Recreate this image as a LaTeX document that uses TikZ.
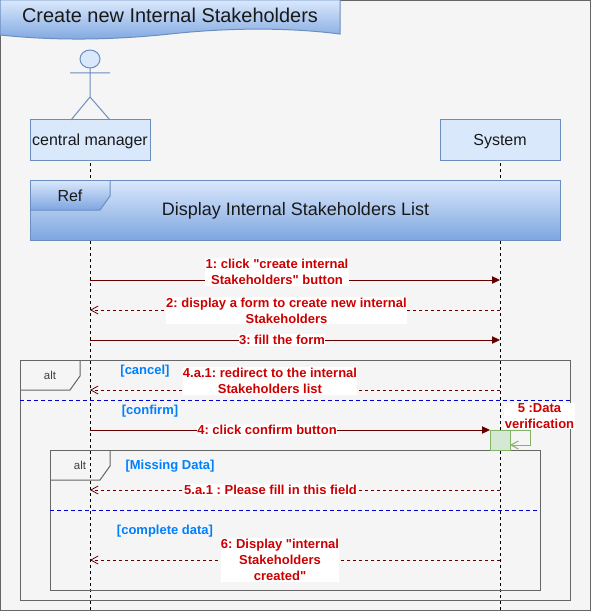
\documentclass[tikz,border=0pt]{standalone}
\usepackage{fontspec}
\setmainfont{Liberation Sans}
\newfontfamily\rawsans{Liberation Sans}
\frenchspacing
\usetikzlibrary{arrows.meta,shapes.geometric}
\definecolor{bgc}{HTML}{F5F5F5}
\definecolor{framec}{HTML}{666666}
\definecolor{bluefill}{HTML}{DAE8FC}
\definecolor{bluedark}{HTML}{7EA6E0}
\definecolor{blueline}{HTML}{6C8EBF}
\definecolor{msgc}{HTML}{660000}
\definecolor{msgtxt}{HTML}{CC0000}
\definecolor{guardc}{HTML}{007FFF}
\definecolor{greenf}{HTML}{D5E8D4}
\definecolor{greenl}{HTML}{82B366}
\definecolor{splitc}{HTML}{0000CC}
\tikzset{
  x=0.75pt,y=-0.75pt,
  every node/.style={font=\fontsize{12}{14}\selectfont,text=black!90,inner sep=0pt,outer sep=0pt},
  headbox/.style={draw=blueline,fill=bluefill,line width=0.75pt,minimum width=90pt,minimum height=30pt,font=\fontsize{12}{14}\selectfont},
  grad/.style={draw=blueline,line width=0.75pt,top color=bluefill,bottom color=bluedark},
  lifeline/.style={draw=black,line width=0.75pt,dash pattern=on 2.25pt off 2.25pt},
  framebox/.style={draw=framec,line width=0.75pt},
  splitline/.style={draw=splitc,line width=0.75pt,dash pattern=on 3pt off 2.25pt},
  callmsg/.style={draw=msgc,line width=0.75pt,-{Triangle[length=6pt,width=5.5pt]}},
  retmsg/.style={draw=msgc,line width=0.6pt,dash pattern=on 2.25pt off 2.25pt,-{Straight Barb[length=5.5pt,width=6pt]}},
  msglabel/.style={fill=white,text=msgtxt,align=center,font=\rawsans\fontsize{9.75}{12}\selectfont\bfseries,inner xsep=0.3pt,inner ysep=0.6pt},
  guard/.style={text=guardc,font=\fontsize{9.75}{11}\selectfont\bfseries},
  alttag/.style={text=black!75,font=\fontsize{8.6}{10}\selectfont},
}
\begin{document}
\begin{tikzpicture}
\useasboundingbox (0,0) rectangle (591,613);
\draw[framec,line width=0.75pt,fill=bgc] (0.5,0.5) rectangle (590.5,610.5);
% title
\path[grad] (0,0) -- (340,0) -- (340,34) .. controls (285,27) and (225,28) .. (170,34) .. controls (113,40) and (57,41) .. (0,35) -- cycle;
\node (title) at (170,15) {\fontsize{14.95}{18}\selectfont Create new Internal Stakeholders};
% lifelines
\node[headbox] (cm) at (90,140) {};
\node[headbox] (sys) at (500,140) {};
\node (cmtxt) at (90,141.5) {central manager};
\node (systxt) at (500,141.5) {System};
\coordinate (cmEnd) at (90,610);
\coordinate (sysEnd) at (500,610);
\draw[lifeline] (cm.south) ++(0,3) -- (cmEnd);
\draw[lifeline] (sys.south) ++(0,3) -- (sysEnd);
% actor
\node[draw=blueline,fill=bluefill,line width=0.75pt,ellipse,minimum width=15pt,minimum height=13.5pt] (head) at (90,59) {};
\coordinate (hip) at (90,97);
\coordinate (armL) at (70,73);
\coordinate (armR) at (110,73);
\coordinate (legL) at (71,120);
\coordinate (legR) at (110,120);
\draw[blueline,line width=0.75pt] (head.south) -- (hip) (armL) -- (armR) (legL) -- (hip) -- (legR);
% ref
\path[grad] (30,180) rectangle (560,240);
\shade[top color=bluefill,bottom color=bluedark] (30,180) -- (110,180) -- (110,196) -- (100,210) -- (30,210) -- cycle;
\draw[blueline,line width=0.75pt] (30,180) rectangle (560,240);
\draw[blueline,line width=0.75pt] (110,180) -- (110,196) -- (100,210) -- (30,210);
\node (reftag) at (70,195.5) {Ref};
\node (reftxt) at (295.5,210.5) {\fontsize{13.5}{16}\selectfont Display Internal Stakeholders List};
% alt outer
\draw[framebox] (20,360) rectangle (570,600);
\draw[framebox] (80,360) -- (80,376) -- (70,390) -- (20,390);
\node[alttag] (alt1) at (50,375) {alt};
\coordinate (s1L) at (20,400); \coordinate (s1R) at (570,400);
\draw[splitline] (s1L) -- (s1R);
% alt inner
\draw[framebox] (50,450) rectangle (540,590);
\draw[framebox] (110,450) -- (110,466) -- (100,480) -- (50,480);
\node[alttag] (alt2) at (80,465) {alt};
\coordinate (s2L) at (50,510); \coordinate (s2R) at (540,510);
\draw[splitline] (s2L) -- (s2R);
% guards
\node[guard] (g1) at (145,371) {[cancel]};
\node[guard] (g2) at (150,411) {[confirm]};
\node[guard] (g3) at (170,466) {[Missing Data]};
\node[guard] (g4) at (165,531) {[complete data]};
% message endpoints
\coordinate (a1) at (90,280); \coordinate (b1) at (500,280);
\coordinate (a2) at (90,310); \coordinate (b2) at (500,310);
\coordinate (a3) at (90,340); \coordinate (b3) at (500,340);
\coordinate (a4) at (90,390); \coordinate (b4) at (500,390);
\coordinate (a5) at (90,430); \coordinate (b5) at (490,430);
\coordinate (a6) at (90,490); \coordinate (b6) at (500,490);
\coordinate (a7) at (90,560); \coordinate (b7) at (500,560);
\draw[callmsg] (a1) -- (b1);
\draw[retmsg] (b2) -- (a2);
\draw[callmsg] (a3) -- (b3);
\draw[retmsg] (b4) -- (a4);
\draw[callmsg] (a5) -- (b5);
\draw[retmsg] (b6) -- (a6);
\draw[retmsg] (b7) -- (a7);
% activation
\node[draw=greenl,fill=greenf,line width=0.75pt,minimum width=15pt,minimum height=15pt] (act) at (500,440) {};
\coordinate (selfA) at (530,430);
\coordinate (selfB) at (530,445);
\draw[greenl,line width=0.75pt,-{Straight Barb[length=5.5pt,width=6pt]}] (act.north east) -- (selfA) -- (selfB) -- (act.east |- selfB);
% labels
\node[msglabel] (l1) at (277,272) {1: click "create internal\\Stakeholders" button};
\node[msglabel] (l2) at (286.5,310.5) {2: display a form to create new internal\\Stakeholders};
\node[msglabel] (l3) at (282,340) {3: fill the form};
\node[msglabel] (l4) at (270,381) {4.a.1: redirect to the internal\\Stakeholders list};
\node[msglabel] (l5) at (267,430) {4: click confirm button};
\node[msglabel] (l6) at (270.5,490) {5.a.1 : Please fill in this field};
\node[msglabel] (l7) at (280,560) {6: Display "internal\\Stakeholders\\created"};
\node[msglabel] (l8) at (539.5,416) {5 :Data\\verification};
\end{tikzpicture}
\end{document}
